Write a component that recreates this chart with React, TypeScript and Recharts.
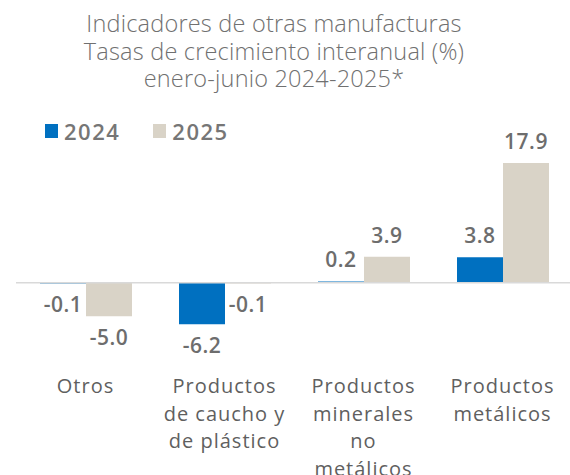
import { BarChart, Bar, XAxis, YAxis, ReferenceLine, LabelList, Legend } from "recharts"

const categories = [
  "Otros",
  "Productos\nde caucho y\nde plástico",
  "Productos\nminerales\nno\nmetálicos",
  "Productos\nmetálicos",
]
const values2024 = [-0.1, -6.2, 0.2, 3.8]
const values2025 = [-5.0, -0.1, 3.9, 17.9]
const seriesNames = ["2024", "2025"]
const seriesColors = ["#0070C0", "#D9D3C7"]
const titleLines = [
  "Indicadores de otras manufacturas",
  "Tasas de crecimiento interanual (%)",
  "enero-junio 2024-2025*",
]

const data = categories.map((name, i) => ({ name, v2024: values2024[i], v2025: values2025[i] }))

const FONT = "'Open Sans', sans-serif"

function CategoryTick(props: any) {
  const { x, y, payload } = props
  const lines = String(payload.value).split("\n")
  return (
    <text
      x={x}
      y={y}
      textAnchor="middle"
      fill="#5f5f5f"
      fontFamily={FONT}
      fontSize={20}
      fontWeight={500}
      letterSpacing={1}
    >
      {lines.map((line, i) => (
        <tspan key={i} x={x} dy={i === 0 ? 50 : 27.5}>
          {line}
        </tspan>
      ))}
    </text>
  )
}

function ValueLabel(props: any) {
  const { x, y, width, height, value } = props
  const top = Math.min(y, y + height)
  const bottom = Math.max(y, y + height)
  const cx = x + width / 2
  const ty = value >= 0 ? top - 14 : bottom + 29
  return (
    <text
      x={cx}
      y={ty}
      textAnchor="middle"
      fill="#6d6d6d"
      fontFamily={FONT}
      fontSize={21}
      fontWeight={600}
      letterSpacing={0.5}
    >
      {Number(value).toFixed(1)}
    </text>
  )
}

function LegendBox() {
  return (
    <div style={{ display: "flex", fontFamily: FONT }}>
      {seriesNames.map((name, i) => (
        <div key={name} style={{ display: "flex", alignItems: "center", marginRight: 33 }}>
          <span style={{ width: 13, height: 14, background: seriesColors[i], marginRight: 6 }} />
          <span style={{ fontSize: 22, fontWeight: 600, color: "#767676", letterSpacing: 1.5, lineHeight: "24px" }}>
            {name}
          </span>
        </div>
      ))}
    </div>
  )
}

export default function App() {
  return (
    <div style={{ position: "absolute", left: 0, top: 0, width: 570, height: 475, overflow: "hidden", background: "#fff" }}>
      <div
        style={{
          position: "absolute",
          left: 0,
          top: 10,
          width: 548,
          textAlign: "center",
          fontFamily: FONT,
          fontWeight: 300,
          fontSize: 23.5,
          lineHeight: "27.5px",
          color: "#707070",
          letterSpacing: 0.2,
        }}
      >
        {titleLines.map((t) => (
          <div key={t}>{t}</div>
        ))}
      </div>
      <BarChart
        width={576}
        height={475}
        data={data}
        margin={{ top: 149, right: 4, left: 16, bottom: 12 }}
        barGap={0}
        barSize={46}
      >
        <XAxis
          dataKey="name"
          axisLine={false}
          tickLine={false}
          tickSize={0}
          tickMargin={0}
          height={120}
          interval={0}
          tick={<CategoryTick />}
        />
        <YAxis hide domain={[-9, 20]} />
        <Legend
          layout="vertical"
          align="center"
          verticalAlign="middle"
          wrapperStyle={{ position: "absolute", top: 119, left: 45, width: 300 }}
          content={() => <LegendBox />}
        />
        <ReferenceLine y={0} stroke="#d9d9d9" strokeWidth={1.5} />
        <Bar dataKey="v2024" name={seriesNames[0]} fill={seriesColors[0]} isAnimationActive={false}>
          <LabelList dataKey="v2024" content={<ValueLabel />} />
        </Bar>
        <Bar dataKey="v2025" name={seriesNames[1]} fill={seriesColors[1]} isAnimationActive={false}>
          <LabelList dataKey="v2025" content={<ValueLabel />} />
        </Bar>
      </BarChart>
    </div>
  )
}
